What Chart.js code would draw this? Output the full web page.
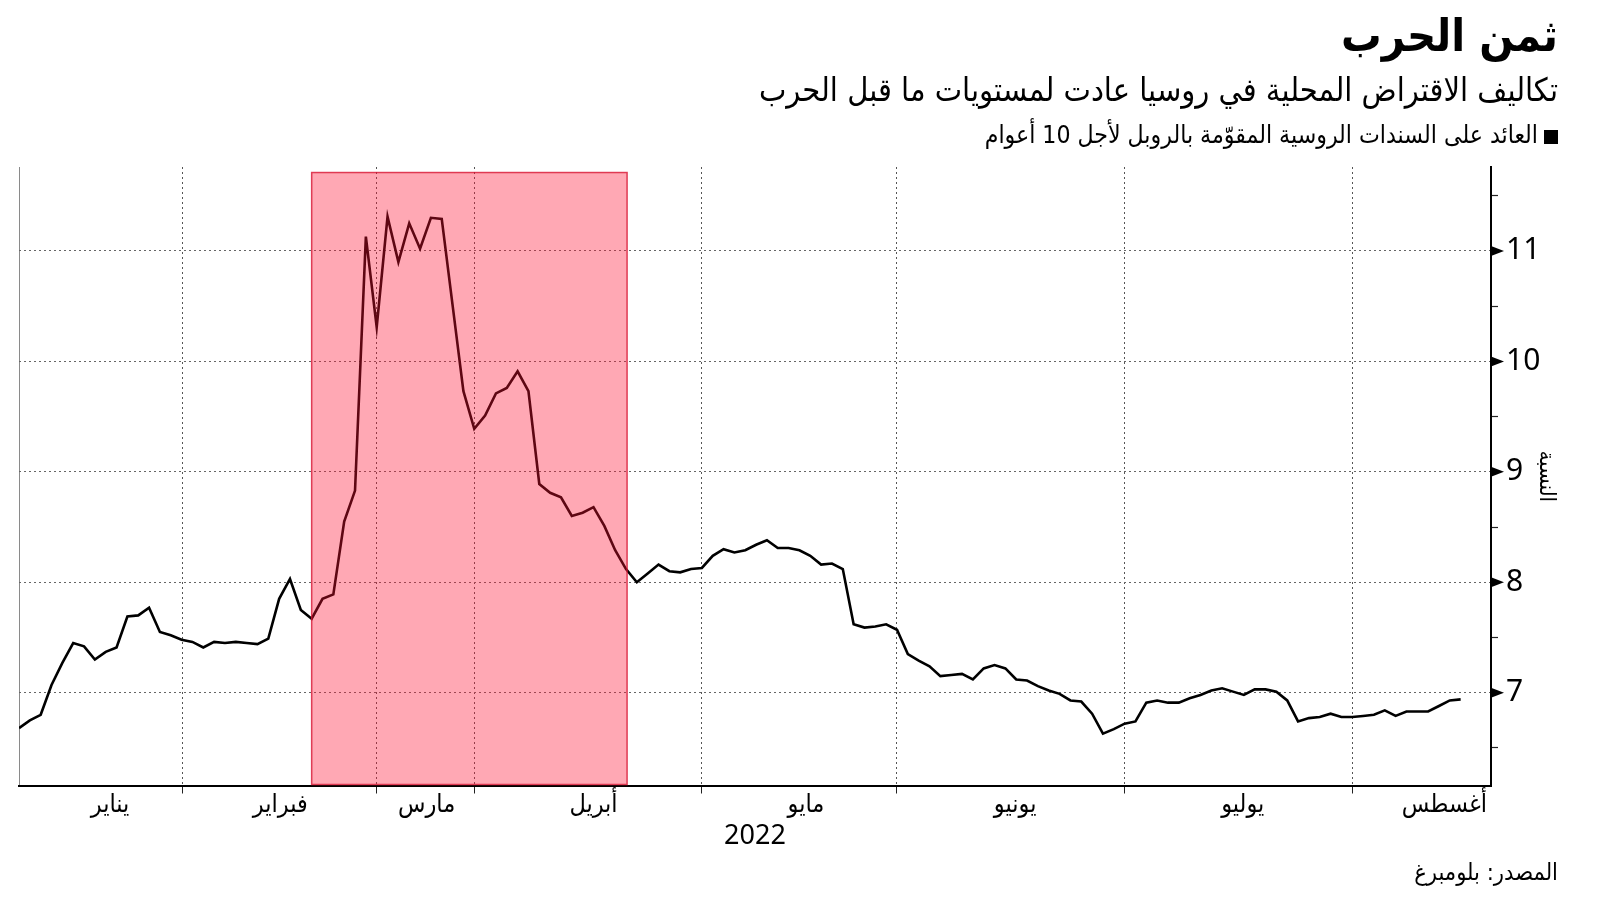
<!DOCTYPE html>
<html lang="ar">
<head>
<meta charset="utf-8">
<script src="https://cdn.jsdelivr.net/npm/chart.js@4"></script>
<style>
  html, body { margin: 0; padding: 0; background: #fff; }
  #wrap { position: relative; width: 1600px; height: 901px; overflow: hidden; }
  canvas { position: absolute; left: 0; top: 0; }
  .txt { position: absolute; right: 42px; direction: rtl; text-align: right; color: #000; white-space: nowrap;
         font-family: 'DejaVu Sans Condensed', 'DejaVu Sans', sans-serif; line-height: 1; }
  #title { top: 13px; font-size: 45px; font-weight: bold; }
  #subtitle { top: 74px; font-size: 32.3px; }
  #legend { top: 123px; font-size: 24.6px; }
  #legend .sq { display: inline-block; width: 14px; height: 14px; background: #000; margin-left: 6px; vertical-align: -1px; }
  #source { top: 861px; font-size: 23.5px; }
</style>
</head>
<body>
<div id="wrap">
  <canvas id="chart" width="1600" height="901"></canvas>
  <div class="txt" id="title">ثمن الحرب</div>
  <div class="txt" id="subtitle">تكاليف الاقتراض المحلية في روسيا عادت لمستويات ما قبل الحرب</div>
  <div class="txt" id="legend"><span class="sq"></span>العائد على السندات الروسية المقوّمة بالروبل لأجل 10 أعوام</div>
  <div class="txt" id="source">المصدر: بلومبرغ</div>
</div>
<script>
// 10-year ruble bond yield, one value per trading day (Jan - Aug 2022)
const yields = [
  6.68, 6.75, 6.80, 7.07, 7.27, 7.45, 7.42, 7.30, 7.37, 7.41,
  7.69, 7.70, 7.77, 7.55, 7.52, 7.48, 7.46, 7.41, 7.46, 7.45,
  7.46, 7.45, 7.44, 7.49, 7.85, 8.03, 7.75, 7.67, 7.85, 7.89,
  8.55, 8.83, 11.13, 10.31, 11.31, 10.90, 11.25, 11.02, 11.30, 11.29,
  10.51, 9.73, 9.39, 9.51, 9.71, 9.76, 9.91, 9.73, 8.89, 8.81,
  8.77, 8.60, 8.63, 8.68, 8.51, 8.29, 8.12, 8.00, 8.08, 8.16,
  8.10, 8.09, 8.12, 8.13, 8.24, 8.30, 8.27, 8.29, 8.34, 8.38,
  8.31, 8.31, 8.29, 8.24, 8.16, 8.17, 8.12, 7.62, 7.59, 7.60,
  7.62, 7.57, 7.35, 7.29, 7.24, 7.15, 7.16, 7.17, 7.12, 7.22,
  7.25, 7.22, 7.12, 7.11, 7.06, 7.02, 6.99, 6.93, 6.92, 6.81,
  6.63, 6.67, 6.72, 6.74, 6.91, 6.93, 6.91, 6.91, 6.95, 6.98,
  7.02, 7.04, 7.01, 6.98, 7.03, 7.03, 7.01, 6.93, 6.74, 6.77,
  6.78, 6.81, 6.78, 6.78, 6.79, 6.80, 6.84, 6.79, 6.83, 6.83,
  6.83, 6.88, 6.93, 6.94
];

// month names and where they sit on the trading-day axis
const monthLabels = ['يناير', 'فبراير', 'مارس', 'أبريل', 'مايو', 'يونيو', 'يوليو', 'أغسطس'];
const monthLabelPos = [8.4, 24.1, 37.6, 53, 72.6, 91.9, 112.9, 131.5];
const monthEdges = [15.1, 33, 42, 63, 81, 102, 123];

const yTicks = [7, 8, 9, 10, 11];
const yMinorTicks = [6.5, 7.5, 8.5, 9.5, 10.5, 11.5];

// shaded war period
const warStart = 27;
const warEnd = 56.1;
const warTop = 11.71;

const X_MIN = 0, X_MAX = 135.8;
const Y_MIN = 6.16, Y_MAX = 11.76;

const FONT = "'Noto Sans', 'DejaVu Sans Condensed', 'DejaVu Sans', sans-serif";

const isEdge = v => monthEdges.includes(v);

const warShade = {
    id: 'warShade',
    afterDatasetsDraw(chart) {
        const { ctx, chartArea, scales: { x, y } } = chart;
        const x0 = x.getPixelForValue(warStart);
        const x1 = x.getPixelForValue(warEnd);
        const top = y.getPixelForValue(warTop);
        const bottom = chartArea.bottom - 1;
        ctx.save();
        ctx.fillStyle = 'rgba(255, 20, 52, 0.37)';
        ctx.fillRect(x0, top, x1 - x0, bottom - top);
        ctx.strokeStyle = 'rgba(215, 20, 50, 0.8)';
        ctx.lineWidth = 1.5;
        ctx.strokeRect(x0, top, x1 - x0, bottom - top);
        ctx.restore();
    }
};

// small right-pointing triangles on the value axis
const tickMarkers = {
    id: 'tickMarkers',
    afterDraw(chart) {
        const { ctx, chartArea, scales: { y } } = chart;
        ctx.save();
        ctx.fillStyle = '#000';
        yTicks.forEach(v => {
            const py = y.getPixelForValue(v);
            ctx.beginPath();
            ctx.moveTo(chartArea.right, py - 5);
            ctx.lineTo(chartArea.right + 13, py);
            ctx.lineTo(chartArea.right, py + 5);
            ctx.closePath();
            ctx.fill();
        });
        ctx.restore();
    }
};

new Chart(document.getElementById('chart'), {
    type: 'line',
    data: {
        datasets: [{
            data: yields.map((v, i) => ({ x: i, y: v })),
            borderColor: '#000',
            borderWidth: 2.6,
            pointRadius: 0,
            tension: 0,
            fill: false
        }]
    },
    options: {
        responsive: false,
        animation: false,
        layout: { padding: { left: 19, top: 167, right: 0, bottom: 0 } },
        plugins: { legend: { display: false }, tooltip: { enabled: false } },
        scales: {
            x: {
                type: 'linear',
                min: X_MIN,
                max: X_MAX,
                afterBuildTicks: s => {
                    const vals = [X_MIN].concat(monthEdges, monthLabelPos).sort((a, b) => a - b);
                    s.ticks = vals.map(v => ({ value: v }));
                },
                afterFit: s => { s.height = 901 - 785.5; },
                grid: {
                    color: ctx => {
                        if (!ctx.tick) return 'rgba(0,0,0,0)';
                        if (ctx.tick.value === X_MIN) return '#8a8a8a';
                        return isEdge(ctx.tick.value) ? '#555' : 'rgba(0,0,0,0)';
                    },
                    lineWidth: 1,
                    tickColor: ctx => (ctx.tick && isEdge(ctx.tick.value)) ? '#222' : 'rgba(0,0,0,0)',
                    tickLength: 8,
                    tickWidth: 1
                },
                border: {
                    color: '#000',
                    width: 2,
                    dash: ctx => (ctx.tick && ctx.tick.value === X_MIN) ? [] : [2, 3]
                },
                ticks: {
                    autoSkip: false,
                    maxRotation: 0,
                    padding: -4,
                    color: '#000',
                    font: { family: FONT, size: 25 },
                    callback: v => {
                        const k = monthLabelPos.indexOf(v);
                        return k >= 0 ? monthLabels[k] : '';
                    }
                },
                title: {
                    display: true,
                    text: '2022',
                    color: '#000',
                    font: { family: FONT, size: 27 },
                    padding: { top: 0, bottom: 48 }
                }
            },
            y: {
                position: 'right',
                min: Y_MIN,
                max: Y_MAX,
                afterBuildTicks: s => {
                    const vals = yTicks.concat(yMinorTicks).sort((a, b) => a - b);
                    s.ticks = vals.map(v => ({ value: v }));
                },
                afterFit: s => { s.width = 1600 - 1491; },
                grid: {
                    color: ctx => (ctx.tick && yTicks.includes(ctx.tick.value)) ? '#666' : 'rgba(0,0,0,0)',
                    lineWidth: 1,
                    tickColor: ctx => (ctx.tick && yMinorTicks.includes(ctx.tick.value)) ? '#222' : 'rgba(0,0,0,0)',
                    tickLength: 7,
                    tickWidth: 1.2
                },
                border: { color: '#000', width: 2, dash: [2, 3] },
                ticks: {
                    padding: 8,
                    color: '#000',
                    font: { family: FONT, size: 30 },
                    callback: v => yTicks.includes(v) ? String(v) : ''
                },
                title: {
                    display: true,
                    text: 'النسبة',
                    color: '#000',
                    font: { family: FONT, size: 22 },
                    padding: { top: 41, bottom: 0 }
                }
            }
        }
    },
    plugins: [warShade, tickMarkers]
});
</script>
</body>
</html>
